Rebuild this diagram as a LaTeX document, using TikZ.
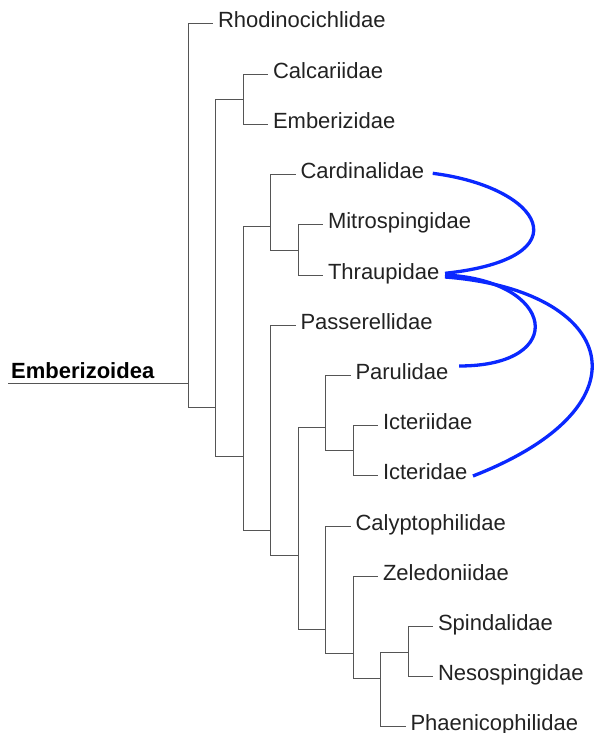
\documentclass[tikz,border=0pt]{standalone}
\usepackage{fontspec}
\setmainfont{Liberation Sans}
\definecolor{LinkBlue}{HTML}{0A28FF}
\definecolor{TreeGray}{HTML}{555555}
\definecolor{LabelInk}{HTML}{222222}
\tikzset{
  % Taxon label: sits just right of its branch end
  taxon/.style={
    anchor=west, inner sep=0pt, outer sep=5pt,
    text height=12pt, text depth=4pt,
    font=\fontsize{22}{26}\selectfont, text=LabelInk
  },
  % Clade name at the root
  clade/.style={
    anchor=base west, inner sep=0pt,
    font=\fontsize{22}{26}\selectfont\bfseries, text=black
  },
  % Tree branch
  branch/.style={draw=TreeGray, line width=1pt},
  % Blue relationship link
  link/.style={draw=LinkBlue, line width=3.3pt}
}
\begin{document}
\begin{tikzpicture}[x=1pt, y=-1pt]
  \useasboundingbox (0,0) rectangle (595,733);

  % Inner nodes of the tree
  \coordinate (stem) at (8,383);
  \coordinate (r)    at (188,383);
  \coordinate (n1)   at (215.5,407.3);
  \coordinate (nce)  at (243,99.3);
  \coordinate (n2)   at (243,456.7);
  \coordinate (n3)   at (270.5,226.7);
  \coordinate (nmt)  at (298,250);
  \coordinate (n4)   at (270.5,530);
  \coordinate (n5)   at (298,555);
  \coordinate (n6)   at (325.5,427.3);
  \coordinate (n7)   at (353,450.7);
  \coordinate (n8)   at (325.5,629);
  \coordinate (n9)   at (353,653.3);
  \coordinate (n10)  at (380.5,678.3);
  \coordinate (n11)  at (408,652);

  % Taxa
  \node[taxon] (rhod)    at (213,24)      {Rhodinocichlidae};
  \node[taxon] (calc)    at (268,74.2)    {Calcariidae};
  \node[taxon] (emb)     at (268,124.4)   {Emberizidae};
  \node[taxon] (card)    at (295.5,174.6) {Cardinalidae};
  \node[taxon] (mitro)   at (323,224.8)   {Mitrospingidae};
  \node[taxon] (thrau)   at (323,275)     {Thraupidae};
  \node[taxon] (passer)  at (295.5,325.2) {Passerellidae};
  \node[taxon] (parul)   at (350.5,375.4) {Parulidae};
  \node[taxon] (icteri)  at (378,425.6)   {Icteriidae};
  \node[taxon] (icterid) at (378,475.8)   {Icteridae};
  \node[taxon] (calyp)   at (350.5,526)   {Calyptophilidae};
  \node[taxon] (zeled)   at (378,576.2)   {Zeledoniidae};
  \node[taxon] (spind)   at (433,626.4)   {Spindalidae};
  \node[taxon] (neso)    at (433,676.6)   {Nesospingidae};
  \node[taxon] (phaen)   at (405.5,726.8) {Phaenicophilidae};

  % Root label
  \node[clade] (sup) at (11,378) {Emberizoidea};
  \draw[branch] (stem) -- (r);

  % Branches
  \draw[branch] (r)   |- (rhod);   \draw[branch] (r)   |- (n1);
  \draw[branch] (n1)  |- (nce);    \draw[branch] (n1)  |- (n2);
  \draw[branch] (nce) |- (calc);   \draw[branch] (nce) |- (emb);
  \draw[branch] (n2)  |- (n3);     \draw[branch] (n2)  |- (n4);
  \draw[branch] (n3)  |- (card);   \draw[branch] (n3)  |- (nmt);
  \draw[branch] (nmt) |- (mitro);  \draw[branch] (nmt) |- (thrau);
  \draw[branch] (n4)  |- (passer); \draw[branch] (n4)  |- (n5);
  \draw[branch] (n5)  |- (n6);     \draw[branch] (n5)  |- (n8);
  \draw[branch] (n6)  |- (parul);  \draw[branch] (n6)  |- (n7);
  \draw[branch] (n7)  |- (icteri); \draw[branch] (n7)  |- (icterid);
  \draw[branch] (n8)  |- (calyp);  \draw[branch] (n8)  |- (n9);
  \draw[branch] (n9)  |- (zeled);  \draw[branch] (n9)  |- (n10);
  \draw[branch] (n10) |- (n11);    \draw[branch] (n10) |- (phaen);
  \draw[branch] (n11) |- (spind);  \draw[branch] (n11) |- (neso);

  % Links from Thraupidae
  \draw[link] ([shift={(3.7,-1.3)}]card.east)
    .. controls +(110,14) and +(140,-15) .. ([shift={(0.7,-1.7)}]thrau.east);
  \draw[link] ([shift={(0.7,0)}]thrau.east)
    .. controls +(110,5) and +(111,0) .. ([shift={(5.6,-9.4)}]parul.east);
  \draw[link] ([shift={(0.7,2)}]thrau.east)
    .. controls +(170,13) and +(182,-71) .. ([shift={(0.6,0.2)}]icterid.east);

\end{tikzpicture}
\end{document}
